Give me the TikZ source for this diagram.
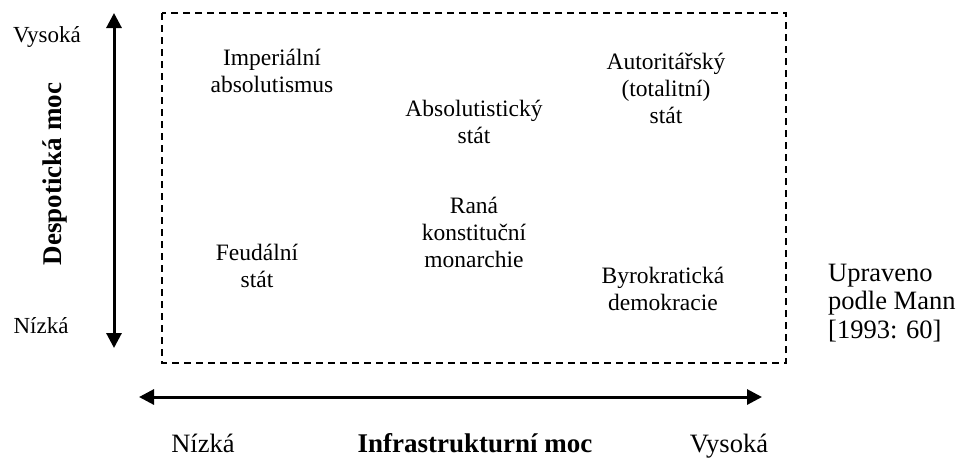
\documentclass[tikz,border=0pt]{standalone}
\usepackage{fontspec}
\setmainfont{Liberation Serif}
\usetikzlibrary{arrows.meta}
\begin{document}
\begin{tikzpicture}[x=1pt,y=-1pt,
  lbl/.style={align=center,font=\fontsize{23.5}{27}\selectfont,inner sep=0pt},
  big/.style={font=\fontsize{26.5}{28.5}\selectfont,inner sep=0pt},
  bigb/.style={font=\fontsize{27}{28.5}\selectfont\bfseries,inner sep=0pt},
  small/.style={font=\fontsize{23}{27}\selectfont,inner sep=0pt},
  axis/.style={line width=3pt,{Triangle[length=15pt,width=15pt]}-{Triangle[length=15pt,width=15pt]}}]
\useasboundingbox (0,0) rectangle (960,459);
\draw[line width=1.6pt,dash pattern=on 7pt off 5pt] (162,13) rectangle (786,363);
\coordinate (vt) at (114,13);
\coordinate (vb) at (114,348);
\draw[axis] (vt) -- (vb);
\coordinate (hl) at (139,397);
\coordinate (hr) at (762,397);
\draw[axis] (hl) -- (hr);
\node[small] (vys) at (47,37) {Vysoká};
\node[small] (niz) at (41,326) {Nízká};
\node[bigb,rotate=90] (dm) at (55,174) {Despotická moc};
\node[big,anchor=base] (bn) at (203,452) {Nízká};
\node[bigb,anchor=base] (im) at (475,452) {Infrastrukturní moc};
\node[big,anchor=base] (bv) at (729,452) {Vysoká};
\node[lbl] (a) at (272,71) {Imperiální\\absolutismus};
\node[lbl] (b) at (474,122) {Absolutistický\\stát};
\node[lbl] (c) at (666,88) {Autoritářský\\(totalitní)\\stát};
\node[lbl] (d) at (257,266) {Feudální\\stát};
\node[lbl] (e) at (474,232) {Raná\\konstituční\\monarchie};
\node[lbl] (f) at (663,289) {Byrokratická\\demokracie};
\node[big,align=left,anchor=west] (g) at (828,303) {Upraveno\\podle Mann\\{[1993: 60]}};
\end{tikzpicture}
\end{document}
